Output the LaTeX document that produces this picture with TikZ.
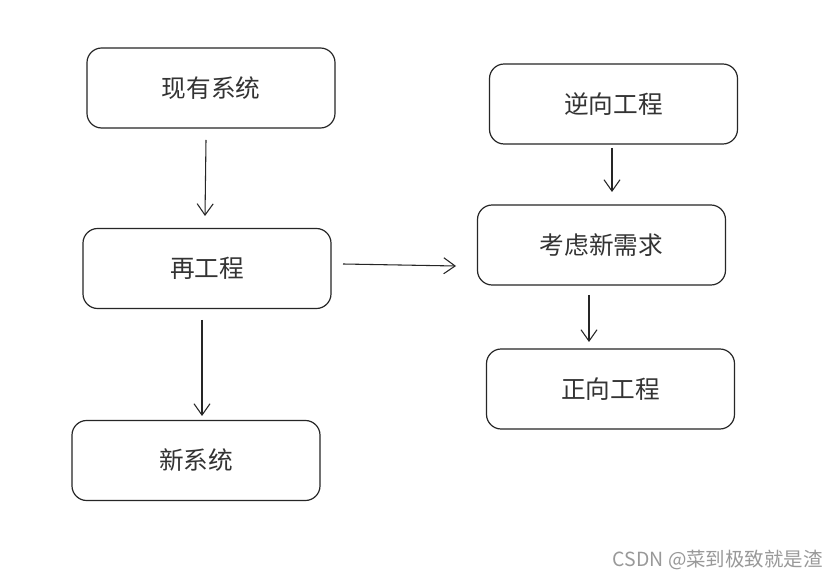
\documentclass[tikz,border=0pt]{standalone}
\usepackage{fontspec}
\newfontfamily\cjk{Noto Sans CJK SC}
\usetikzlibrary{arrows.meta}
\begin{document}
\begin{tikzpicture}[x=0.75pt,y=-0.75pt,
  box/.style={draw=black!85,line width=0.9pt,rounded corners=11pt,minimum width=186pt,minimum height=60pt,inner sep=0pt,font=\cjk\fontsize{18.5}{21}\selectfont,text=black!80},
  conn/.style={draw=black!85,line width=0.8pt,-{Straight Barb[length=8.5pt,width=12pt]}}]
\useasboundingbox[fill=white] (0,0) rectangle (838,580);
\node[box] (xy) at (211,88) {现有系统};
\node[box] (zg) at (207,268.5) {再工程};
\node[box] (xx) at (196,460.5) {新系统};
\node[box] (nx) at (613.5,104) {逆向工程};
\node[box] (kl) at (601.5,245) {考虑新需求};
\node[box] (zx) at (610.5,389) {正向工程};
\coordinate (a1) at (206,140); \coordinate (a2) at (205,216);
\coordinate (b1) at (202,320); \coordinate (b2) at (202,416);
\coordinate (c1) at (343,264); \coordinate (c2) at (456,266);
\coordinate (d1) at (612,148); \coordinate (d2) at (612,192);
\coordinate (e1) at (589,295); \coordinate (e2) at (589,342);
\draw[conn] (a1) -- (a2);
\draw[conn] (b1) -- (b2);
\draw[conn] (c1) -- (c2);
\draw[conn] (d1) -- (d2);
\draw[conn] (e1) -- (e2);
\node[anchor=east,inner sep=0pt,text=black!40,font=\cjk\fontsize{14.6}{16}\selectfont] (wm) at (823,560) {CSDN @菜到极致就是渣};
\end{tikzpicture}
\end{document}
